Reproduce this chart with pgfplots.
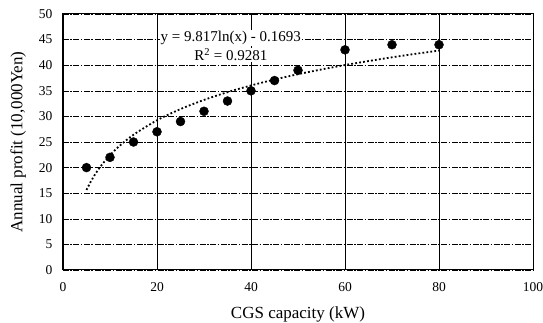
\documentclass[border=0pt]{standalone}
\usepackage{pgfplots}
\pgfplotsset{compat=1.18}
\usepackage{fontspec}
\setmainfont{Liberation Serif}
\begin{document}
\begin{tikzpicture}
\begin{axis}[
  at={(0,0)}, anchor=south west,
  scale only axis, width=470pt, height=256pt,
  xmin=0, xmax=100, ymin=0, ymax=50,
  xtick={0,20,...,100}, ytick={0,5,...,50},
  /pgf/number format/assume math mode=true,
  tick label style={font=\fontsize{13.5}{13.5}\selectfont},
  xticklabel style={yshift=-9pt},
  yticklabel style={xshift=-7pt},
  label style={font=\fontsize{17}{17}\selectfont},
  xlabel={CGS capacity (kW)}, ylabel={Annual profit (10,000Yen)},
  xlabel style={yshift=-8pt},
  ylabel style={yshift=6pt},
  major tick length=0pt,
  axis line style={black, line width=1pt},
  xmajorgrids, ymajorgrids,
  x grid style={black, line width=0.8pt},
  y grid style={black, line width=0.5pt, dash pattern=on 6pt off 1.5pt on 1.5pt off 1.5pt},
  clip=false,
]
\addplot[only marks, mark=*, mark size=4.5pt, black] coordinates {
(5,20)(10,22)(15,25)(20,27)(25,29)(30,31)(35,33)(40,35)(45,37)(50,39)(60,43)(70,44)(80,44)};
\addplot[black, line width=1.8pt, dash pattern=on 1.8pt off 2.2pt, smooth] coordinates {
(5,15.63)(6,17.42)(7,18.93)(8,20.24)(10,22.43)(12,24.22)(15,26.42)(20,29.24)(25,31.43)(30,33.22)(35,34.73)(40,36.04)(45,37.20)(50,38.24)(55,39.17)(60,40.03)(65,40.81)(70,41.54)(75,42.22)(80,42.85)};
\node[font=\fontsize{15}{15}\selectfont, fill=white, inner sep=1pt] at (axis cs:35.7,45.3) {y = 9.817ln(x) - 0.1693};
\node[font=\fontsize{15}{15}\selectfont, fill=white, inner sep=1pt] at (axis cs:35.7,42.0) {R\textsuperscript{2} = 0.9281};
\end{axis}
\pgfresetboundingbox
\path (-63pt,-53pt) rectangle (480pt,270pt);
\end{tikzpicture}
\end{document}
